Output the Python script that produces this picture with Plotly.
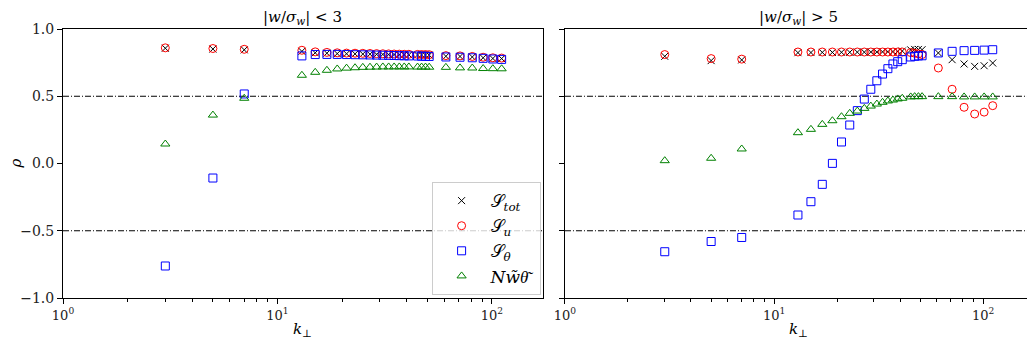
import plotly.graph_objects as go

# ---------------- data ----------------
k_perp = [3, 5, 7, 13, 15, 17, 19, 21, 23, 25, 27, 29, 31, 33, 35, 37, 39, 41,
          45, 47, 49, 51, 61, 71, 81, 91, 101, 111]

# left panel |w/sigma_w| < 3
left_S_tot = [0.857, 0.851, 0.845, 0.834, 0.823, 0.820, 0.817, 0.816, 0.815, 0.814,
              0.813, 0.812, 0.811, 0.810, 0.810, 0.809, 0.808, 0.808, 0.807, 0.807,
              0.806, 0.806, 0.797, 0.796, 0.792, 0.786, 0.781, 0.780]
left_S_u = [0.860, 0.855, 0.849, 0.842, 0.830, 0.826, 0.823, 0.821, 0.820, 0.819,
            0.818, 0.817, 0.816, 0.815, 0.814, 0.813, 0.812, 0.812, 0.811, 0.810,
            0.810, 0.809, 0.802, 0.800, 0.796, 0.790, 0.786, 0.784]
left_S_theta = [-0.762, -0.108, 0.517, 0.800, 0.810, 0.811, 0.811, 0.810, 0.809, 0.808,
                0.807, 0.806, 0.805, 0.804, 0.803, 0.802, 0.801, 0.800, 0.799, 0.798,
                0.797, 0.796, 0.792, 0.790, 0.786, 0.782, 0.777, 0.774]
left_NwT = [0.145, 0.360, 0.485, 0.656, 0.678, 0.693, 0.703, 0.709, 0.712, 0.715,
            0.716, 0.717, 0.718, 0.718, 0.718, 0.718, 0.718, 0.718, 0.717, 0.717,
            0.717, 0.716, 0.715, 0.711, 0.710, 0.706, 0.705, 0.704]

# right panel |w/sigma_w| > 5
right_S_tot = [0.797, 0.765, 0.770, 0.824, 0.825, 0.826, 0.826, 0.827, 0.827, 0.828,
               0.828, 0.829, 0.829, 0.830, 0.831, 0.832, 0.834, 0.836, 0.845, 0.848,
               0.848, 0.846, 0.822, 0.772, 0.740, 0.722, 0.727, 0.747]
right_S_u = [0.810, 0.780, 0.776, 0.829, 0.829, 0.829, 0.829, 0.829, 0.829, 0.829,
             0.829, 0.829, 0.829, 0.829, 0.829, 0.829, 0.829, 0.829, 0.825, 0.820,
             0.815, 0.810, 0.710, 0.552, 0.418, 0.368, 0.382, 0.430]
right_S_theta = [-0.656, -0.580, -0.550, -0.383, -0.284, -0.155, 0.001, 0.160, 0.286, 0.393,
                 0.479, 0.552, 0.615, 0.665, 0.705, 0.740, 0.757, 0.772, 0.792, 0.797,
                 0.800, 0.801, 0.822, 0.834, 0.839, 0.841, 0.843, 0.846]
right_NwT = [0.021, 0.039, 0.108, 0.229, 0.254, 0.291, 0.318, 0.348, 0.373, 0.390,
             0.410, 0.427, 0.442, 0.455, 0.465, 0.472, 0.480, 0.485, 0.495, 0.497,
             0.497, 0.497, 0.497, 0.497, 0.495, 0.495, 0.495, 0.495]

panel_titles = ["|<i>w</i>/<i>σ<sub>w</sub></i>| &lt; 3", "|<i>w</i>/<i>σ<sub>w</sub></i>| &gt; 5"]
series_names = ["𝒮<sub><i>tot</i></sub>", "𝒮<sub><i>u</i></sub>", "𝒮<sub><i>θ</i></sub>",
                "<i>N</i><i>w̃θ͂</i>"]
x_tickvals = [1, 10, 100]
x_ticktext = ["10<sup>0</sup>", "10<sup>1</sup>", "10<sup>2</sup>"]
x_minor_vals = [2, 3, 4, 5, 6, 7, 8, 9, 20, 30, 40, 50, 60, 70, 80, 90, 200]
ref_levels = [0.5, -0.5]

# ---------------- styling ----------------
FONT = "'DejaVu Serif', 'Liberation Serif', serif"
styles = [
    dict(symbol="x-thin-open", color="black", size=7),
    dict(symbol="circle-open", color="red", size=8),
    dict(symbol="square-open", color="blue", size=8),
    dict(symbol="triangle-up-open", color="green", size=8),
]

fig = go.Figure()
panels = [
    (["x", "y"], [left_S_tot, left_S_u, left_S_theta, left_NwT], True),
    (["x2", "y2"], [right_S_tot, right_S_u, right_S_theta, right_NwT], False),
]
for (xa, ya), series, show in panels:
    for name, vals, st in zip(series_names, series, styles):
        fig.add_trace(go.Scatter(
            x=k_perp, y=vals, mode="markers", name=name, showlegend=show,
            xaxis=xa, yaxis=ya,
            marker=dict(symbol=st["symbol"], size=st["size"], color=st["color"],
                        line=dict(color=st["color"], width=1)),
        ))

xcommon = dict(type="log", range=[0, 2.238], showline=True, linecolor="black",
               linewidth=1, mirror=True, ticks="outside", ticklen=5, tickcolor="black",
               showgrid=False, zeroline=False, tickmode="array",
               tickvals=x_tickvals, ticktext=x_ticktext,
               tickfont=dict(family=FONT, size=13, color="#222"),
               minor=dict(ticks="outside", ticklen=3, tickcolor="black",
                          tickvals=x_minor_vals, showgrid=False))
ycommon = dict(range=[-1.0, 1.0], showline=True, linecolor="black", linewidth=1,
               mirror=True, ticks="outside", ticklen=5, tickcolor="black",
               showgrid=False, zeroline=False, dtick=0.5, tickformat=".1f")

# the page body adds an 8px offset; the figure is sized so the axes land where the reference has them
fig.update_layout(
    width=1027, height=339,
    margin=dict(l=55, r=2, t=21, b=49, autoexpand=False),
    paper_bgcolor="white", plot_bgcolor="white",
    font=dict(family=FONT, size=14, color="black"),
    xaxis=dict(domain=[0, 0.4948], anchor="y", **xcommon),
    yaxis=dict(domain=[0, 1], anchor="x", tickfont=dict(family=FONT, size=14, color="#222"),
               **ycommon),
    xaxis2=dict(domain=[0.5175, 1], anchor="y2", **xcommon),
    yaxis2=dict(domain=[0, 1], anchor="x2", showticklabels=False, **ycommon),
    legend=dict(x=0.380, y=0.431, xanchor="left", yanchor="top",
                bgcolor="rgba(255,255,255,0.8)", bordercolor="#cccccc", borderwidth=1,
                font=dict(family=FONT, size=17), itemwidth=48),
    showlegend=True,
)

for xr in ["x domain", "x2 domain"]:
    yr = "y" if xr.startswith("x ") else "y2"
    for lvl in ref_levels:
        fig.add_shape(type="line", xref=xr, yref=yr, x0=0, x1=1, y0=lvl, y1=lvl,
                      line=dict(color="black", width=1, dash="6px,2px,1px,2px"),
                      layer="below")

for xr, t in zip(["x domain", "x2 domain"], panel_titles):
    fig.add_annotation(text=t, xref=xr, yref="paper", x=0.5, y=1.0, yshift=0,
                       xanchor="center", yanchor="bottom", showarrow=False,
                       font=dict(family=FONT, size=15))
    fig.add_annotation(text="<i>k</i><sub>⊥</sub>", xref=xr, yref="paper", x=0.5, y=0,
                       yshift=-20, xanchor="center", yanchor="top", showarrow=False,
                       font=dict(family=FONT, size=15))

fig.add_annotation(text="<i>ρ</i>", xref="paper", yref="paper", x=0, xshift=-48, y=0.5,
                   textangle=-90, xanchor="center", yanchor="middle", showarrow=False,
                   font=dict(family=FONT, size=15))

fig.write_html("out.html")
